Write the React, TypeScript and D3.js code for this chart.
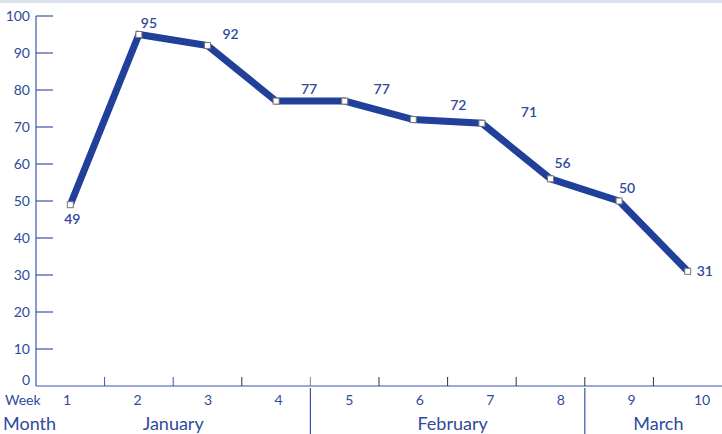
import React from "react";
import * as d3 from "d3";

const weeks = ["1", "2", "3", "4", "5", "6", "7", "8", "9", "10"];
const values = [49, 95, 92, 77, 77, 72, 71, 56, 50, 31];
const months = ["January", "February", "March"];
const monthSpans = [
  [0, 3],
  [4, 7],
  [8, 9],
];
const yTicks = [0, 10, 20, 30, 40, 50, 60, 70, 80, 90, 100];

// where each value label sits relative to its point
const labelOffsets = [
  [2, 14],
  [10, -12],
  [23, -12],
  [33, -12],
  [37, -12],
  [45, -15],
  [47, -11],
  [12, -16],
  [8, -13],
  [9, 0],
];

const W = 722;
const H = 434;
const BLUE = "#21409a";
const TEXT = "#2f4a9c";
const FONT = "Lato, 'Open Sans', sans-serif";

const App = () => {
  const x = d3.scaleBand<string>().domain(weeks).range([36, 722]);
  const weekLabelX = d3.scalePoint<string>().domain(weeks).range([67, 702]);
  const y = d3.scaleLinear().domain([0, 100]).range([386, 16]);

  const cx = (i: number) => (x(weeks[i]) as number) + x.bandwidth() / 2;
  const line = d3
    .line<number>()
    .x((_, i) => cx(i))
    .y((d) => y(d));

  const bandEdges = weeks.slice(1).map((w) => x(w) as number);
  const separators = monthSpans.slice(1).map((s) => x(weeks[s[0]]) as number);

  return (
    <svg
      width={W}
      height={H}
      style={{ position: "absolute", left: 0, top: 0, background: "#fff" }}
      fontFamily={FONT}
    >
      <rect x={0} y={0} width={W} height={3} fill="#dde3ee" />

      {/* y axis */}
      <line x1={36} x2={36} y1={y(100)} y2={y(0)} stroke="#3a55a5" strokeWidth={1.2} />
      {yTicks.map((t) => (
        <g key={t}>
          {t > 0 && (
            <line x1={36} x2={53} y1={y(t)} y2={y(t)} stroke="#3a55a5" strokeWidth={1.2} />
          )}
          <text
            x={30}
            y={y(t) + (t === 0 ? -1 : 5)}
            textAnchor="end"
            fontSize={14}
            fill={TEXT}
          >
            {t}
          </text>
        </g>
      ))}

      {/* x axis */}
      <line x1={36} x2={722} y1={386} y2={386} stroke="#3a55a5" strokeWidth={1.2} />
      {bandEdges.map((e, i) => (
        <line
          key={i}
          x1={e}
          x2={e}
          y1={377}
          y2={386}
          stroke={i < 2 ? "#3a55a5" : i === 3 ? "#888" : "#333"}
          strokeWidth={1}
        />
      ))}
      {separators.map((s, i) => (
        <line key={i} x1={s} x2={s} y1={388} y2={434} stroke="#3a55a5" strokeWidth={1.2} />
      ))}

      <text x={5} y={405} fontSize={14} fill={TEXT}>
        Week
      </text>
      {weeks.map((w) => (
        <text key={w} x={weekLabelX(w)} y={405} fontSize={14} fill={TEXT} textAnchor="middle">
          {w}
        </text>
      ))}

      <text x={3} y={430} fontSize={18} fill={TEXT}>
        Month
      </text>
      {months.map((m, i) => {
        const a = x(weeks[monthSpans[i][0]]) as number;
        const b = (x(weeks[monthSpans[i][1]]) as number) + x.bandwidth();
        return (
          <text key={m} x={(a + b) / 2 + (i === 0 ? 0 : 5)} y={430} fontSize={18} fill={TEXT} textAnchor="middle">
            {m}
          </text>
        );
      })}

      {/* series */}
      <path
        d={line(values) ?? ""}
        fill="none"
        stroke={BLUE}
        strokeWidth={7}
        strokeLinejoin="miter"
      />
      {values.map((v, i) => (
        <rect
          key={i}
          x={cx(i) - 3}
          y={y(v) - 3}
          width={6}
          height={6}
          fill="#fff"
          stroke="#777"
          strokeWidth={1}
        />
      ))}
      {values.map((v, i) => (
        <text
          key={i}
          x={cx(i) + labelOffsets[i][0]}
          y={y(v) + labelOffsets[i][1] + 5}
          fontSize={14}
          fontWeight={600}
          fill={TEXT}
          textAnchor={i === 9 ? "start" : "middle"}
        >
          {v}
        </text>
      ))}
    </svg>
  );
};

export default App;
